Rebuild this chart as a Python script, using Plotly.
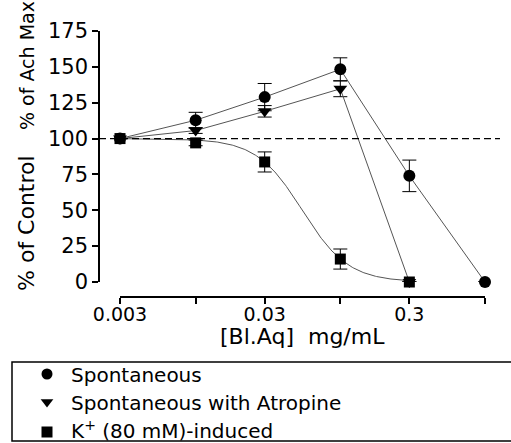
import numpy as np
import plotly.graph_objects as go

# ---------------- data ----------------
conc = [0.003, 0.01, 0.03, 0.1, 0.3, 1.0]
spont = [100, 112.8, 128.9, 148.3, 74, 0]
spont_err = [0, 5.5, 9.5, 8, 11, 0]

conc_atr = [0.003, 0.01, 0.03, 0.1, 0.3]
atropine = [100, 105.6, 119, 134.7, 0]
atropine_err = [0, 2, 4, 5.5, 0]

conc_k = [0.003, 0.01, 0.03, 0.1, 0.3]
k_induced = [100, 97, 83.7, 16, 0]
k_err = [0, 2, 7, 7, 0]

# sigmoidal fit parameters for the K+ curve
fit_top, fit_bottom, fit_ic50, fit_hill = 100.0, 0.0, 0.0546, 2.73

x_tickvals = [0.003, 0.01, 0.03, 0.1, 0.3, 1]
x_ticktext = ["0.003", "", "0.03", "", "0.3", ""]
y_tickvals = [0, 25, 50, 75, 100, 125, 150, 175]

legend_names = ["Spontaneous", "Spontaneous with Atropine", "K<sup>+</sup> (80 mM)-induced"]

# ---------------- layout geometry ----------------
W, H = 511, 443
FONT = "DejaVu Sans"
LINE = "#555555"

fig = go.Figure()

fx = np.logspace(np.log10(conc_k[0]), np.log10(conc_k[-1]), 300)
fy = fit_bottom + (fit_top - fit_bottom) / (1 + (fx / fit_ic50) ** fit_hill)

fig.add_trace(go.Scatter(x=conc, y=spont, mode="lines+markers",
                         line=dict(color=LINE, width=1),
                         marker=dict(symbol="circle", size=12, color="black"),
                         error_y=dict(type="data", array=spont_err, color="black", thickness=1, width=7),
                         cliponaxis=False, showlegend=False))
fig.add_trace(go.Scatter(x=conc_atr, y=atropine, mode="lines+markers",
                         line=dict(color=LINE, width=1),
                         marker=dict(symbol="triangle-down", size=12, color="black"),
                         error_y=dict(type="data", array=atropine_err, color="black", thickness=1, width=7),
                         cliponaxis=False, showlegend=False))
fig.add_trace(go.Scatter(x=fx, y=fy, mode="lines", line=dict(color=LINE, width=1),
                         hoverinfo="skip", showlegend=False))
fig.add_trace(go.Scatter(x=conc_k, y=k_induced, mode="markers",
                         marker=dict(symbol="square", size=11, color="black"),
                         error_y=dict(type="data", array=k_err, color="black", thickness=1, width=7),
                         cliponaxis=False, showlegend=False))

# legend markers (pixel coordinates on helper axes)
leg_text_y = [375, 403, 430]
leg_mark_y = [374, 402, 432]
leg_sym = ["circle", "triangle-down", "square"]
for yy, sym in zip(leg_mark_y, leg_sym):
    fig.add_trace(go.Scatter(x=[47], y=[yy], xaxis="x2", yaxis="y2", mode="markers",
                             marker=dict(symbol=sym, size=11, color="black"),
                             cliponaxis=False, showlegend=False, hoverinfo="skip"))

annotations = []
for yy, name in zip(leg_text_y, legend_names):
    annotations.append(dict(x=69, y=yy, xref="x2", yref="y2", text=name, showarrow=False,
                            xanchor="left", yanchor="middle",
                            font=dict(family=FONT, size=20, color="black")))
annotations.append(dict(x=302 / W, y=1 - 336 / H, xref="paper", yref="paper",
                        text="[Bl.Aq]  mg/mL", showarrow=False, xanchor="center", yanchor="middle",
                        font=dict(family=FONT, size=22, color="black")))
annotations.append(dict(x=27 / W, y=1 - 66 / H, xref="paper", yref="paper", textangle=-90,
                        text="% of Ach Max", showarrow=False, xanchor="center", yanchor="middle",
                        font=dict(family=FONT, size=19, color="black")))
annotations.append(dict(x=27 / W, y=1 - 223 / H, xref="paper", yref="paper", textangle=-90,
                        text="% of Control", showarrow=False, xanchor="center", yanchor="middle",
                        font=dict(family=FONT, size=22, color="black")))

shapes = [
    dict(type="line", xref="paper", yref="y", x0=99 / W, x1=500 / W, y0=100, y1=100,
         line=dict(color="black", width=1.2, dash="7px,4px")),
    dict(type="rect", xref="x2", yref="y2", x0=12, x1=540, y0=362, y1=441,
         line=dict(color="black", width=1.5), fillcolor="rgba(0,0,0,0)"),
]

fig.update_layout(
    width=W, height=H,
    margin=dict(l=0, r=0, t=0, b=0, pad=0, autoexpand=False),
    paper_bgcolor="white", plot_bgcolor="white",
    xaxis=dict(type="log", domain=[120 / W, 485 / W], range=[np.log10(0.003), 0],
               anchor="free", position=1 - 297 / H, automargin=False,
               showline=True, linecolor="black", linewidth=1.5,
               ticks="outside", ticklen=6, tickwidth=1.5, tickcolor="black",
               tickvals=x_tickvals, ticktext=x_ticktext, ticklabelstandoff=-6,
               showgrid=False, zeroline=False,
               tickfont=dict(family=FONT, size=19, color="black")),
    yaxis=dict(domain=[1 - 282 / H, 1 - 31 / H], range=[0, 175],
               anchor="free", position=99 / W, automargin=False,
               showline=True, linecolor="black", linewidth=1.5,
               ticks="outside", ticklen=6, tickwidth=1.5, tickcolor="black",
               tickvals=y_tickvals, showgrid=False, zeroline=False,
               tickfont=dict(family=FONT, size=21, color="black")),
    xaxis2=dict(domain=[0, 1], range=[0, W], anchor="y2", visible=False,
                fixedrange=True, automargin=False),
    yaxis2=dict(domain=[0, 85 / H], range=[H, 358], anchor="x2", visible=False,
                fixedrange=True, automargin=False),
    annotations=annotations,
    shapes=shapes,
    showlegend=False,
)

fig.write_html("out.html")
